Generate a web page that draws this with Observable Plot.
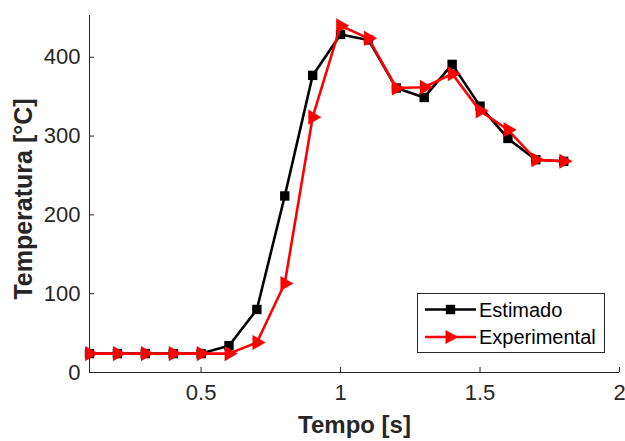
<!DOCTYPE html>
<html><head><meta charset="utf-8">
<script src="https://cdn.jsdelivr.net/npm/d3@7"></script>
<script src="https://cdn.jsdelivr.net/npm/@observablehq/plot@0.6"></script>
<style>
body{margin:0;background:#fff;font-family:"Liberation Sans",Arial,sans-serif;}
#wrap{position:relative;width:625px;height:441px;}
#legend{position:absolute;left:417px;top:293px;width:188px;height:60px;border:1px solid #262626;background:#fff;box-sizing:border-box;}
</style></head>
<body><div id="wrap"></div>
<script>
const tempo = [0.1,0.2,0.3,0.4,0.5,0.6,0.7,0.8,0.9,1.0,1.1,1.2,1.3,1.4,1.5,1.6,1.7,1.8];
const estimado = [24,24,24,24,24,34,80,224,377,429,422,361,349,391,338,297,270,268];
const experimental = [24,24,24,24,24,24,38,113,324,440,424,361,362,379,332,308,270,268];
const xTicks = [0.5,1,1.5,2];
const yTicks = [0,100,200,300,400];
const seriesNames = ["Estimado","Experimental"];

const est = tempo.map((t,i)=>({t, v: estimado[i]}));
const exp = tempo.map((t,i)=>({t, v: experimental[i]}));
const ink = "#262626";

const chart = Plot.plot({
  width: 625, height: 441,
  marginLeft: 89, marginRight: 6, marginTop: 15, marginBottom: 69,
  style: {fontFamily: '"Liberation Sans", Arial, sans-serif', color: ink, background: "#fff"},
  x: {domain: [0.1, 2]},
  y: {domain: [0, 453]},
  marks: [
    Plot.axisX({ticks: xTicks, tickSize: -5, tickPadding: 17, fontSize: 22, label: null, stroke: ink, fill: ink, tickFormat: d => String(d)}),
    Plot.axisY({ticks: yTicks, tickSize: -5, tickPadding: 14, fontSize: 22, label: null, stroke: ink, fill: ink}),
    Plot.ruleY([0], {stroke: ink, strokeWidth: 1}),
    Plot.ruleX([0.1], {stroke: ink, strokeWidth: 1}),
    Plot.line(est, {x: "t", y: "v", stroke: "#000", strokeWidth: 2.6}),
    Plot.dot(est, {x: "t", y: "v", symbol: "square", r: 5.3, fill: "#000"}),
    Plot.line(exp, {x: "t", y: "v", stroke: "#ff0000", strokeWidth: 2.6}),
    Plot.dot(exp, {x: "t", y: "v", symbol: "triangle", rotate: 90, r: 5.6, fill: "#ff0000"}),
    Plot.text(["Tempo [s]"], {frameAnchor: "bottom", textAnchor: "middle", dy: 60, fontSize: 24, fontWeight: "bold", fill: ink}),
    Plot.text(["Temperatura [°C]"], {frameAnchor: "left", textAnchor: "middle", dx: -66, dy: 5, rotate: -90, fontSize: 25, fontWeight: "bold", fill: ink})
  ]
});
const wrap = document.getElementById("wrap");
wrap.appendChild(chart);

// legend
const lg = document.createElement("div");
lg.id = "legend";
wrap.appendChild(lg);
const svg = d3.select(lg).append("svg").attr("width",186).attr("height",58);
const colors = ["#000","#ff0000"];
seriesNames.forEach((name,i)=>{
  const cy = 15.5 + i*27.5;
  svg.append("line").attr("x1",7).attr("x2",58).attr("y1",cy).attr("y2",cy).attr("stroke",colors[i]).attr("stroke-width",2.6);
  if(i===0){
    svg.append("rect").attr("x",32.5-4.7).attr("y",cy-4.7).attr("width",9.4).attr("height",9.4).attr("fill","#000");
  } else {
    svg.append("path").attr("d",`M${32.5+8},${cy} L${32.5-5},${cy-7} L${32.5-5},${cy+7} Z`).attr("fill","#ff0000");
  }
  svg.append("text").attr("x",61).attr("y",cy).attr("dy","0.36em").attr("font-size",20).attr("fill","#000")
    .attr("font-family",'"Liberation Sans", Arial, sans-serif').text(name);
});
</script>
</body></html>
